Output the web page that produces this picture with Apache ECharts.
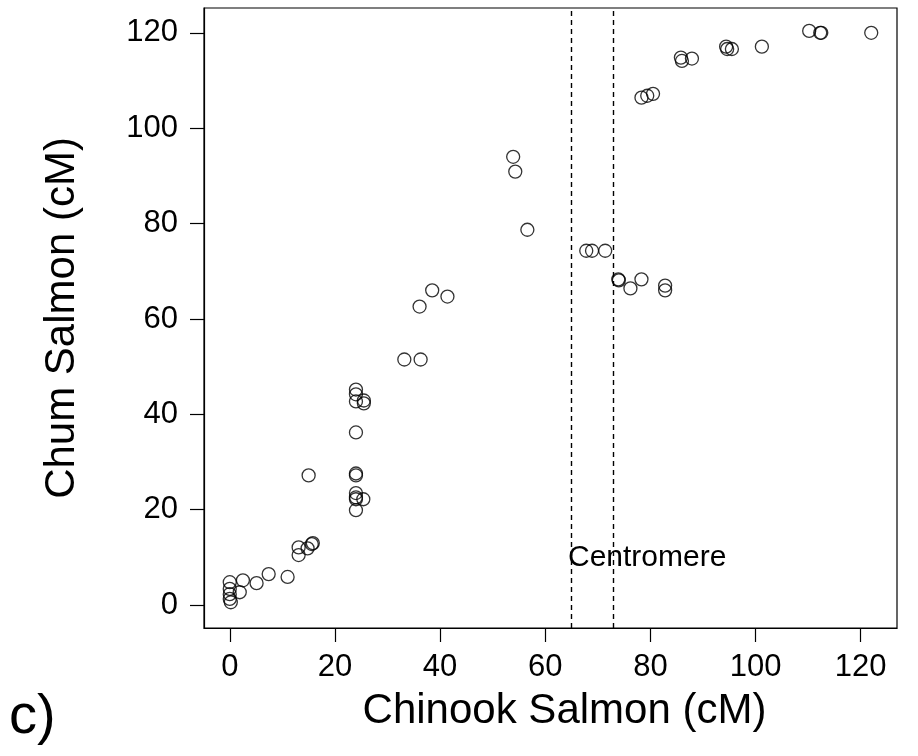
<!DOCTYPE html>
<html>
<head>
<meta charset="utf-8">
<script src="https://cdn.jsdelivr.net/npm/echarts@6/dist/echarts.min.js"></script>
<style>
	html, body { margin: 0; padding: 0; background: #fff; }
	#main { width: 918px; height: 756px; }
</style>
</head>
<body>
<div id="main"></div>
<script>
	// 点位数据（Chinook cM, Chum cM）
	var chinookX = [0, 0, 0, 0, 0.2, 1.9, 2.5, 5.1, 7.4, 11, 13.1, 13.1, 14.8, 15.6, 15.8, 15,
		24, 24, 24, 25.5, 25.5, 24, 24, 24, 24, 24, 24, 25.4, 24,
		33.2, 36.3, 36.1, 38.5, 41.4, 53.9, 54.3, 56.6,
		67.8, 68.9, 71.4, 73.9, 74, 76.2, 78.3, 82.8, 82.8,
		78.3, 79.4, 80.5, 85.8, 86, 87.9, 94.4, 94.6, 95.5, 101.2, 110.2, 112.3, 112.5, 122];
	var chumY = [4.8, 3.4, 2.3, 1.3, 0.6, 2.7, 5.2, 4.6, 6.5, 5.9, 12.1, 10.5, 11.9, 12.8, 13, 27.2,
		45.2, 44.2, 42.7, 42.9, 42.3, 36.2, 27.6, 27.2, 23.5, 22.6, 22.2, 22.2, 19.9,
		51.5, 51.5, 62.6, 66, 64.7, 94, 90.9, 78.7,
		74.3, 74.3, 74.3, 68.3, 68.1, 66.4, 68.3, 67, 66,
		106.4, 106.8, 107.2, 114.8, 114.1, 114.6, 117.1, 116.6, 116.6, 117.1, 120.4, 120, 120, 120];
	var tickValues = [0, 20, 40, 60, 80, 100, 120];
	var centromere = [65, 73];

	var fontName = 'Liberation Sans';
	var myChart = echarts.init(document.getElementById('main'), null, { renderer: 'canvas' });

	var pts = [];
	for (var i = 0; i < chinookX.length; i++) {
		pts.push([chinookX[i], chumY[i]]);
	}

	function axisCfg(name, min, max, gap, labelMargin, namePad) {
		return {
			type: 'value',
			name: name,
			nameLocation: 'middle',
			nameGap: gap,
			nameTextStyle: { fontFamily: fontName, fontSize: 42, color: '#000', padding: namePad },
			min: min,
			max: max,
			splitLine: { show: false },
			axisLine: { show: true, onZero: false, lineStyle: { color: '#000', width: 1.2 } },
			axisTick: { show: true, length: 14, customValues: tickValues, lineStyle: { color: '#000', width: 1.2 } },
			axisLabel: { customValues: tickValues, margin: labelMargin, fontFamily: fontName, fontSize: 31, color: '#000' }
		};
	}

	var option = {
		animation: false,
		backgroundColor: '#fff',
		grid: {
			left: 204, right: 21, top: 8, bottom: 128,
			show: true, borderColor: '#000', borderWidth: 1.2, backgroundColor: 'transparent'
		},
		xAxis: axisCfg('Chinook Salmon (cM)', -4.9, 126.9, 62, 24, [0, 0, 0, 28]),
		yAxis: axisCfg('Chum Salmon (cM)', -4.8, 125.2, 121, 26, 0),
		graphic: [{
			type: 'text',
			left: 568, top: 543,
			style: { text: 'Centromere', fontFamily: fontName, fontSize: 30, fill: '#000' }
		}, {
			type: 'text',
			left: 9, top: 690,
			style: { text: 'c)', fontFamily: fontName, fontSize: 56, fill: '#000' }
		}],
		series: [{
			type: 'scatter',
			data: pts,
			symbol: 'circle',
			symbolSize: 13,
			itemStyle: { color: 'rgba(0,0,0,0)', borderColor: '#000', borderWidth: 1.3 },
			markLine: {
				silent: true,
				symbol: ['none', 'none'],
				label: { show: false },
				lineStyle: { color: '#000', type: [5, 4], width: 1.4 },
				data: [{ xAxis: centromere[0] }, { xAxis: centromere[1] }]
			}
		}]
	};
	myChart.setOption(option);
</script>
</body>
</html>
